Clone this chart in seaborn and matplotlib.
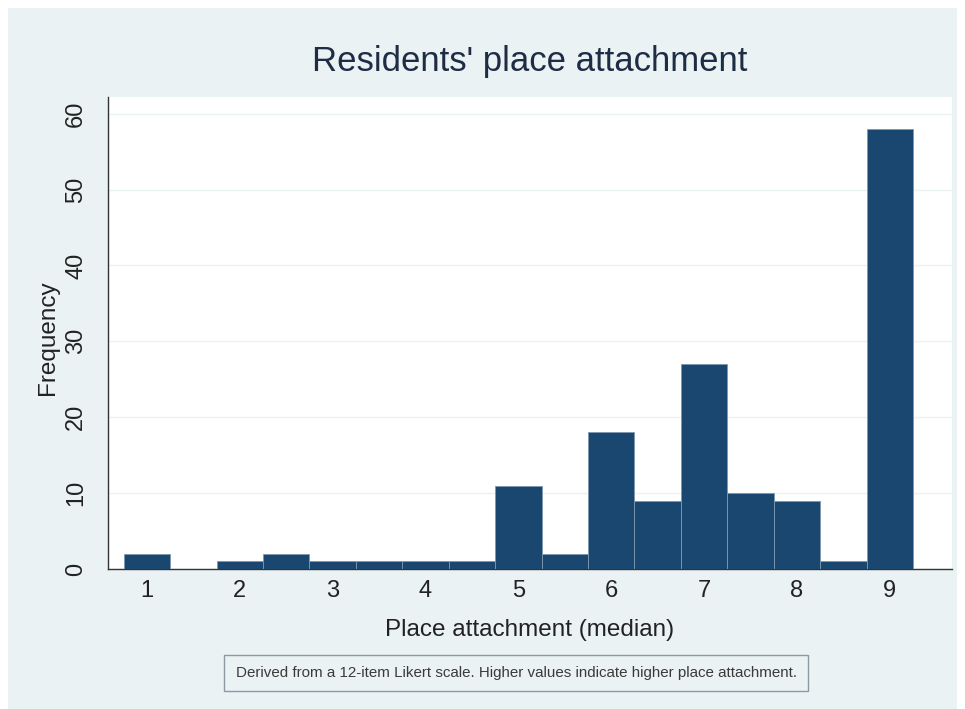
import matplotlib
matplotlib.use("Agg")
import matplotlib.pyplot as plt
from matplotlib.patches import Rectangle
import numpy as np
import pandas as pd
import seaborn as sns

# Median place-attachment scores (bin centres, width 0.5) and their counts
medians = [1.0, 1.5, 2.0, 2.5, 3.0, 3.5, 4.0, 4.5, 5.0, 5.5, 6.0, 6.5, 7.0, 7.5, 8.0, 8.5, 9.0]
frequencies = [2, 0, 1, 2, 1, 1, 1, 1, 11, 2, 18, 9, 27, 10, 9, 1, 58]
x_ticks = [1, 2, 3, 4, 5, 6, 7, 8, 9]
y_ticks = [0, 10, 20, 30, 40, 50, 60]

title_text = "Residents' place attachment"
x_label = "Place attachment (median)"
y_label = "Frequency"
note_text = "Derived from a 12-item Likert scale. Higher values indicate higher place attachment."

BAR = "#1a476f"
BG = "#eaf2f3"
TXT = "#1e2d45"

sns.set_style("white")
plt.rcParams["font.family"] = ["Liberation Sans", "DejaVu Sans"]

df = pd.DataFrame({"median": medians, "freq": frequencies})

fig = plt.figure(figsize=(9.65, 7.09), dpi=100, facecolor="white")
# outer graph region
fig.patches.append(Rectangle((8 / 965, 0), 949 / 965, 701 / 709,
                             transform=fig.transFigure, facecolor=BG,
                             edgecolor="none", zorder=-10))

ax = fig.add_axes([108 / 965, 1 - 569 / 709, 844 / 965, 472 / 709])
ax.set_facecolor("white")

edges = [float(e) for e in np.arange(0.75, 9.26, 0.5)]
sns.histplot(data=df, x="median", weights="freq", bins=edges, ax=ax,
             color=BAR, alpha=1.0, edgecolor="#7f98b0", linewidth=0.6,
             zorder=3)

ax.set_xlim(0.58, 9.67)
ax.set_ylim(0, 62.2)
ax.set_xticks(x_ticks)
ax.set_yticks(y_ticks)
ax.set_yticklabels([str(v) for v in y_ticks], rotation=90, va="center")
ax.tick_params(axis="both", which="major", direction="out", length=6,
               width=0.9, color="#333333", labelsize=17, labelcolor="#222222")
ax.tick_params(axis="x", pad=2)
ax.tick_params(axis="y", pad=9)
ax.yaxis.grid(True, color=BG, linewidth=1.0, zorder=0)
ax.set_axisbelow(True)

for side in ["top", "right"]:
    ax.spines[side].set_visible(False)
for side in ["left", "bottom"]:
    ax.spines[side].set_color("#333333")
    ax.spines[side].set_linewidth(1.0)

ax.set_xlabel(x_label, fontsize=17.5, color="#222222")
ax.set_ylabel(y_label, fontsize=17.5, color="#222222")
ax.xaxis.label.set_va("center")
ax.yaxis.label.set_va("center")
ax.xaxis.set_label_coords(0.5, (569 - 630) / 472)
ax.yaxis.set_label_coords((48 - 108) / 844, (569 - 338) / 472)

fig.text(530 / 965, 1 - 61 / 709, title_text, ha="center", va="center",
         fontsize=25, color=TXT)

fig.text(516 / 965, 1 - 673 / 709, note_text, ha="center", va="center",
         fontsize=10.9, color="#3a3a3a",
         bbox=dict(boxstyle="square,pad=0.75", facecolor=BG,
                   edgecolor="#8c9aa5", linewidth=1.0))

fig.savefig("out.png", dpi=100, facecolor="white")
